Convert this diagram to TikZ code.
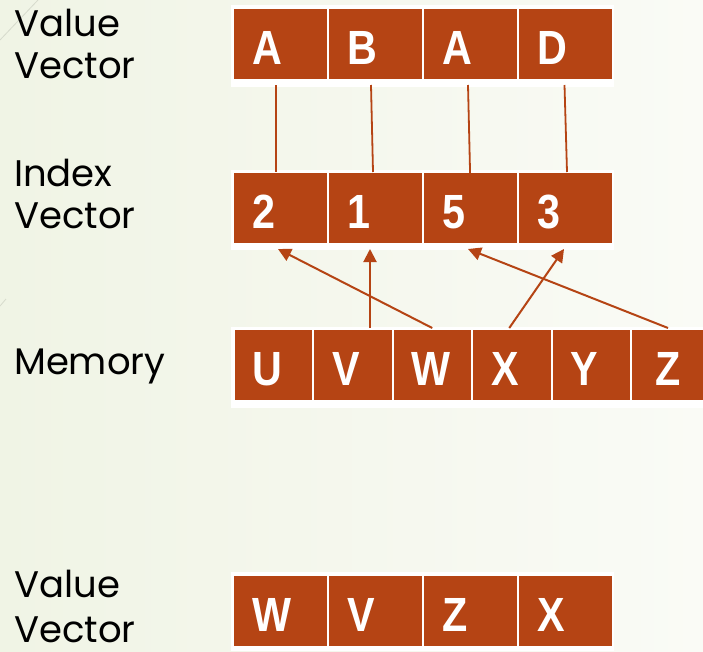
\documentclass[tikz,border=0pt]{standalone}
\usepackage{fontspec}
\usetikzlibrary{arrows.meta,calc}
\newfontfamily\labelfont{Poppins}
\newfontfamily\cellfont{Liberation Sans}[FakeStretch=0.86]
\definecolor{rust}{RGB}{181,68,20}
\definecolor{paperL}{RGB}{240,244,229}
\definecolor{paperR}{RGB}{250,251,246}
\definecolor{themeline}{RGB}{214,218,204}

\begin{document}
\begin{tikzpicture}[x=1pt,y=-1pt,
  cell/.style={fill=rust, draw=white, line width=2pt, anchor=north west,
    minimum height=72pt, inner xsep=19pt, inner ysep=0pt, align=left,
    text=white, text height=41pt, text depth=0pt,
    font=\cellfont\bfseries\fontsize{48}{48}\selectfont},
  widecell/.style={cell, text width=57pt, minimum width=95pt},
  narrowcell/.style={cell, text width=41.5pt, minimum width=79.5pt},
  rowlabel/.style={anchor=base west, align=left, inner sep=0pt,
    font=\labelfont\fontsize{37}{42}\selectfont},
  link/.style={draw=rust, line width=1.8pt},
  pointer/.style={draw=rust, line width=2pt, -{Triangle[length=13pt,width=13pt]}}]

% page and slide background
\useasboundingbox (0,0) rectangle (703,651);
\shade[left color=paperL, right color=paperR] (0,0) rectangle (703,651);
\draw[themeline, line width=0.8pt] (38,0) -- (0,40);
\draw[themeline, line width=0.8pt] (0,306) -- (6,299);

% white plates under each row
\fill[white] (230.5,5) rectangle (613.5,87);
\fill[white] (230.5,169.5) rectangle (613.5,250);
\fill[white] (230.5,326.5) rectangle (703,408);
\fill[white] (230.5,572) rectangle (613.5,651);

% row labels (anchored on the baseline of their last line)
\node[rowlabel] (lblValue) at (14,78) {Value\\Vector};
\node[rowlabel] (lblIndex) at (14,228) {Index\\Vector};
\node[rowlabel] (lblMemory) at (14,374) {Memory};
\node[rowlabel, font=\labelfont\fontsize{37}{45}\selectfont] (lblResult) at (14,642) {Value\\Vector};

% value vector
\foreach \t [count=\k] in {A,B,A,D}
  \node[widecell] (v\k) at ({232+95*(\k-1)},7) {\t};
% index vector
\foreach \t [count=\k] in {2,1,5,3}
  \node[widecell] (i\k) at ({232+95*(\k-1)},171) {\t};
% memory (the last word runs past the page edge)
\foreach \t [count=\k] in {U,V,W,X,Y}
  \node[narrowcell] (m\k) at ({232.5+79.5*(\k-1)},328) {\t};
\node[narrowcell, minimum width=90pt] (m6) at (630,328) {Z};
% gathered result
\foreach \t [count=\k] in {W,V,Z,X}
  \node[widecell] (r\k) at ({232+95*(\k-1)},574) {\t};

% value entries tied to their indices
\draw[link] ($(v1.south)+(-4.5,4)$) -- ($(i1.north)+(-4.5,1)$);
\draw[link] ($(v2.south)+(-4.5,4)$) -- ($(i2.north)+(-2.5,1)$);
\draw[link] ($(v3.south)+(-2.5,4)$) -- ($(i3.north)+(0,20)$);
\draw[link] ($(v4.south)+(-1,4)$) -- ($(i4.north)+(1.5,1)$);

% memory words gathered by index
\draw[pointer] (m3.north) -- ($(i1.south)+(-2.5,4)$);
\draw[pointer] ($(i2.south |- m2.north)+(-5.5,0)$) -- ($(i2.south)+(-5.5,4)$);
\draw[pointer] ($(m4.north)+(-2.5,0)$) -- ($(i4.south)+(-1.5,4)$);
\draw[pointer] ($(m6.north west)+(38,0)$) -- ($(i3.south)+(-2.5,4)$);
\end{tikzpicture}
\end{document}
